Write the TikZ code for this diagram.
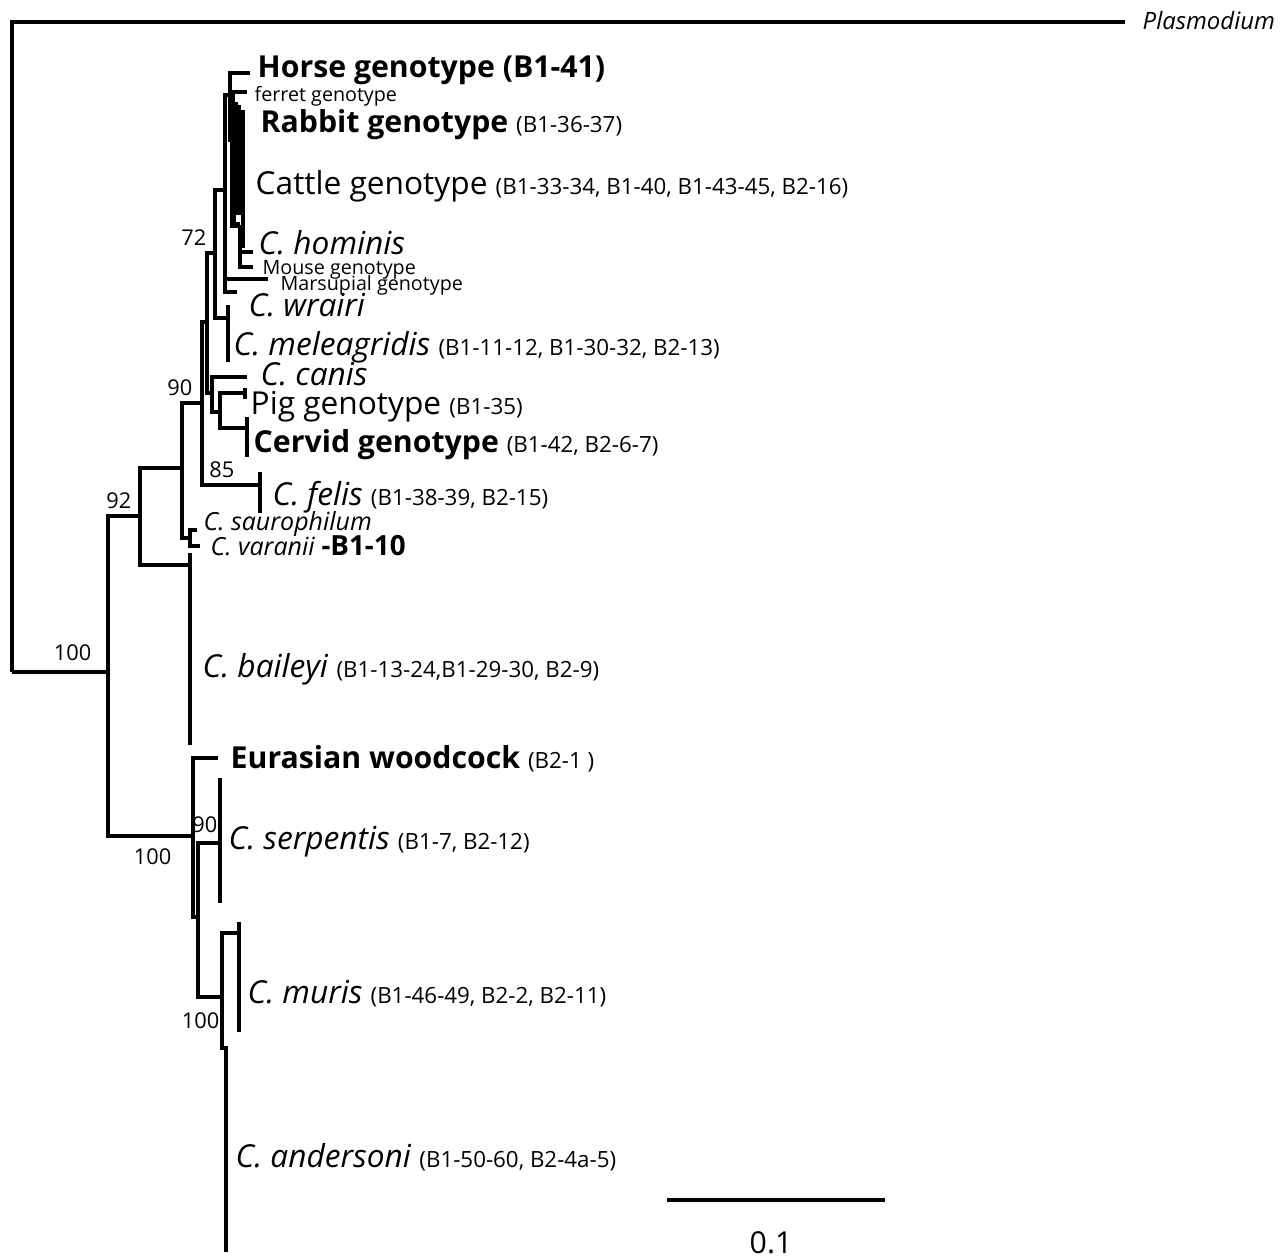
\documentclass[tikz,border=0pt]{standalone}
\usepackage{fontspec}
\setmainfont{Open Sans}
\usetikzlibrary{positioning}
\newcommand{\ids}[1]{{\fontsize{6.35pt}{7pt}\selectfont #1}}

\begin{document}
\begin{tikzpicture}[x=0.01cm, y=-0.01cm,
  branch/.style={line width=0.9pt},
  heavy/.style={line width=1.5pt},
  taxon/.style={anchor=base west, inner sep=0pt, font=\fontsize{9pt}{10pt}\selectfont},
  strong/.style={taxon, font=\fontsize{8.6pt}{10pt}\selectfont\bfseries},
  minor/.style={anchor=base west, inner sep=0pt, font=\fontsize{5.6pt}{6pt}\selectfont},
  middle/.style={anchor=base west, inner sep=0pt, font=\fontsize{7.1pt}{8pt}\selectfont},
  boot/.style={anchor=base east, inner sep=0pt, font=\fontsize{6.2pt}{7pt}\selectfont}
]
  \useasboundingbox (0,0) rectangle (1280,1256);

  % inner nodes of the tree
  \coordinate (root) at (12,672);
  \coordinate (nA)   at (108,672);
  \coordinate (n92)  at (140,516);
  \coordinate (n90)  at (182,468);
  \coordinate (nB)   at (202,403);
  \coordinate (nC)   at (207,322);
  \coordinate (nH)   at (215,253);
  \coordinate (nG)   at (225,190);
  \coordinate (nI)   at (230,95);
  \coordinate (nJ)   at (233,140);
  \coordinate (nR)   at (238,105);
  \coordinate (nM)   at (240,225);
  \coordinate (nE)   at (212,393);
  \coordinate (nF)   at (220,412);
  \coordinate (nSV)  at (190,538);
  \coordinate (nW)   at (193,836);
  \coordinate (nS)   at (198,917);
  \coordinate (nL)   at (222,997);

  % tips
  \coordinate (tPlas) at (1125,22);
  \coordinate (tHorse) at (250,73);
  \coordinate (tFerret) at (247,92);
  \coordinate (tRab) at (238,215);
  \coordinate (tCat1) at (243,112);
  \coordinate (tCat2) at (243,248);
  \coordinate (tHom) at (253,252);
  \coordinate (tMouse) at (253,267);
  \coordinate (tMars) at (268,279);
  \coordinate (tWra) at (237,292);
  \coordinate (tMel) at (228,318);
  \coordinate (tMel1) at (228,305);
  \coordinate (tMel2) at (228,362);
  \coordinate (tCan) at (247,377);
  \coordinate (tPig) at (245,393);
  \coordinate (tPig1) at (245,388);
  \coordinate (tPig2) at (245,399);
  \coordinate (tCer) at (247,428);
  \coordinate (tCer1) at (247,417);
  \coordinate (tCer2) at (247,457);
  \coordinate (tFel) at (260,485);
  \coordinate (tFel1) at (260,472);
  \coordinate (tFel2) at (260,513);
  \coordinate (tSau) at (197,530);
  \coordinate (tVar) at (200,546);
  \coordinate (tBai) at (190,565);
  \coordinate (tBai1) at (190,553);
  \coordinate (tBai2) at (190,745);
  \coordinate (tWood) at (218,758);
  \coordinate (tSer) at (220,843);
  \coordinate (tSer1) at (220,778);
  \coordinate (tSer2) at (220,903);
  \coordinate (tMur) at (239,933);
  \coordinate (tMur1) at (239,922);
  \coordinate (tMur2) at (239,1032);
  \coordinate (tAnd) at (226,1048);
  \coordinate (tAnd2) at (226,1252);

  % branches
  \draw[branch] (root) |- (tPlas);
  \draw[branch] (root) -- (nA);
  \draw[branch] (nA) |- (n92);
  \draw[branch] (nA) |- (nW);
  \draw[branch] (n92) |- (n90);
  \draw[branch] (n92) |- (tBai);
  \draw[branch] (tBai1) -- (tBai2);
  \draw[branch] (n90) |- (nB);
  \draw[branch] (n90) |- (nSV);
  \draw[branch] (nSV) |- (tSau);
  \draw[branch] (nSV) |- (tVar);
  \draw[branch] (nB) |- (nC);
  \draw[branch] (nB) |- (tFel);
  \draw[branch] (tFel1) -- (tFel2);
  \draw[branch] (nC) |- (nH);
  \draw[branch] (nC) |- (nE);
  \draw[branch] (nE) |- (tCan);
  \draw[branch] (nE) |- (nF);
  \draw[branch] (nF) |- (tPig);
  \draw[branch] (tPig1) -- (tPig2);
  \draw[branch] (nF) |- (tCer);
  \draw[branch] (tCer1) -- (tCer2);
  \draw[branch] (nH) |- (nG);
  \draw[branch] (nH) |- (tMel);
  \draw[branch] (tMel1) -- (tMel2);
  \draw[branch] (nG) |- (nI);
  \draw[branch] (nG) |- (tMars);
  \draw[branch] (nG) |- (tWra);
  \draw[branch] (nI) |- (tHorse);
  \draw[branch] (nI) |- (nJ);
  \draw[branch] (nJ) |- (tFerret);
  \draw[heavy] (nJ) |- (nR);
  \draw[heavy] (nJ) |- (nM);
  \draw[heavy] (nR) -- (tRab);
  \draw[branch] (nR) |- (tCat1) -- (tCat2);
  \draw[branch] (nM) |- (tHom);
  \draw[branch] (nM) |- (tMouse);
  \draw[branch] (nW) |- (tWood);
  \draw[branch] (nW) |- (nS);
  \draw[branch] (nS) |- (tSer);
  \draw[branch] (tSer1) -- (tSer2);
  \draw[branch] (nS) |- (nL);
  \draw[branch] (nL) |- (tMur);
  \draw[branch] (tMur1) -- (tMur2);
  \draw[branch] (nL) |- (tAnd) -- (tAnd2);

  % taxa
  \node[anchor=base west, inner sep=0pt, font=\fontsize{6.8pt}{8pt}\selectfont] (plasmodium) at (1142,29) {\textit{Plasmodium}};
  \node[strong] (horse) at (257,77) {Horse genotype (B1-41)};
  \node[minor] (ferret) at (254,101) {ferret genotype};
  \node[strong] (rabbit) at (260,132) {Rabbit genotype \ids{\mdseries(B1-36-37)}};
  \node[taxon] (cattle) at (255,194) {Cattle genotype \ids{(B1-33-34, B1-40, B1-43-45, B2-16)}};
  \node[taxon] (hominis) at (258,254) {\textit{C. hominis}};
  \node[minor] (mouse) at (262,274) {Mouse genotype};
  \node[minor] (marsupial) at (280,290) {Marsupial genotype};
  \node[taxon] (wrairi) at (248,316) {\textit{C. wrairi}};
  \node[taxon] (meleagridis) at (233,355) {\textit{C. meleagridis} \ids{(B1-11-12, B1-30-32, B2-13)}};
  \node[taxon] (canis) at (260,385) {\textit{C. canis}};
  \node[taxon] (pig) at (250,414) {Pig genotype \ids{(B1-35)}};
  \node[strong] (cervid) at (253,452) {Cervid genotype \ids{\mdseries(B1-42, B2-6-7)}};
  \node[taxon] (felis) at (272,505) {\textit{C. felis} \ids{(B1-38-39, B2-15)}};
  \node[middle] (saurophilum) at (203,530) {\textit{C. saurophilum}};
  \node[middle] (varanii) at (210,555) {\textit{C. varanii} {\fontsize{7.9pt}{8pt}\selectfont\bfseries-B1-10}};
  \node[taxon] (baileyi) at (202,677) {\textit{C. baileyi} \ids{(B1-13-24,B1-29-30, B2-9)}};
  \node[strong] (woodcock) at (230,768) {Eurasian woodcock \ids{\mdseries(B2-1 )}};
  \node[taxon] (serpentis) at (228,849) {\textit{C. serpentis} \ids{(B1-7, B2-12)}};
  \node[taxon] (muris) at (247,1003) {\textit{C. muris} \ids{(B1-46-49, B2-2, B2-11)}};
  \node[taxon] (andersoni) at (235,1167) {\textit{C. andersoni} \ids{(B1-50-60, B2-4a-5)}};

  % bootstrap values
  \node[boot] (bs72) at (207,245) {72};
  \node[boot] (bs90a) at (193,395) {90};
  \node[boot] (bs85) at (235,477) {85};
  \node[boot] (bs92) at (132,508) {92};
  \node[boot] (bs100a) at (92,660) {100};
  \node[boot] (bs100b) at (172,864) {100};
  \node[boot] (bs90b) at (218,832) {90};
  \node[boot] (bs100c) at (220,1028) {100};

  % scale bar
  \coordinate (sb1) at (667,1200);
  \coordinate (sb2) at (885,1200);
  \draw[branch] (sb1) -- (sb2);
  \node[anchor=base, inner sep=0pt, font=\fontsize{8.6pt}{10pt}\selectfont] (scale) at (771,1253) {0.1};
\end{tikzpicture}
\end{document}
